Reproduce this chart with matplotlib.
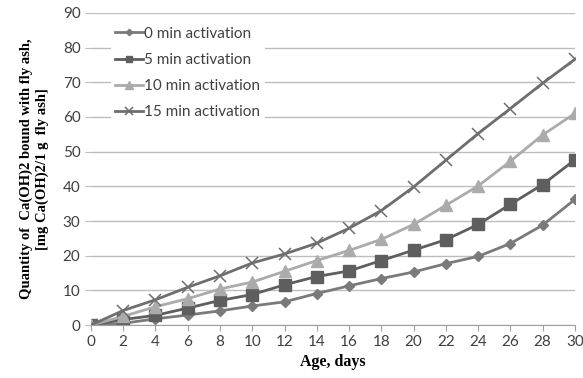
import matplotlib
matplotlib.use('Agg')
import matplotlib.pyplot as plt

# -- Data
days = [0, 2, 4, 6, 8, 10, 12, 14, 16, 18, 20, 22, 24, 26, 28, 30]
act_0 = [0, 0.5, 1.8, 2.9, 4.1, 5.5, 6.7, 9.1, 11.3, 13.4, 15.3, 17.7, 19.8, 23.5, 28.8, 36.2]
act_5 = [0, 1.6, 2.8, 4.9, 7.1, 8.8, 11.6, 14.0, 15.6, 18.6, 21.6, 24.6, 29.0, 34.8, 40.5, 47.6]
act_10 = [0, 2.5, 5.3, 7.6, 10.4, 12.4, 15.5, 18.6, 21.5, 24.7, 29.0, 34.5, 40.1, 47.2, 54.8, 61.0]
act_15 = [0, 4.2, 7.3, 10.9, 14.2, 17.9, 20.5, 23.6, 27.9, 33.0, 39.8, 47.5, 55.2, 62.4, 69.7, 76.6]
labels = ['0 min activation', '5 min activation', '10 min activation', '15 min activation']

fig = plt.figure(figsize=(5.83, 3.78), dpi=100)
ax = fig.add_axes([0.156, 0.14, 0.83, 0.826])

ax.plot(days, act_0, color='#7a7a7a', lw=2, marker='D', ms=5.5, label=labels[0])
ax.plot(days, act_5, color='#5e5e5e', lw=2, marker='s', ms=8, label=labels[1])
ax.plot(days, act_10, color='#ababab', lw=2, marker='^', ms=9, label=labels[2])
ax.plot(days, act_15, color='#6e6e6e', lw=2, marker='x', ms=9, mew=1.1, label=labels[3])

ax.set_xlim(0, 30)
ax.set_ylim(0, 90)
ax.set_xticks(range(0, 31, 2))
ax.set_yticks(range(0, 91, 10))
ax.grid(axis='y', color='#bdbdbd', lw=1)
ax.set_axisbelow(True)

for s in ['top', 'right', 'left']:
    ax.spines[s].set_visible(False)
ax.spines['bottom'].set_color('#a0a0a0')
ax.tick_params(axis='x', colors='#a0a0a0', labelcolor='#404040', length=4, labelsize=11)
ax.tick_params(axis='y', colors='#bdbdbd', labelcolor='#404040', length=4, labelsize=11)
for t in ax.get_xticklabels() + ax.get_yticklabels():
    t.set_family('Lato')

ax.set_xlabel('Age, days', family='Liberation Serif', weight='bold', fontsize=11.5, labelpad=3)
ax.set_ylabel('Quantity of  Ca(OH)2 bound with fly ash,\n[mg Ca(OH)2/1 g  fly ash]',
              family='Liberation Serif', weight='bold', fontsize=10.5, labelpad=10)

leg = ax.legend(loc='upper left', bbox_to_anchor=(0.025, 0.995), frameon=True, framealpha=1,
                edgecolor='none', prop={'family': 'Lato', 'size': 11}, handlelength=1.8,
                labelspacing=0.8, borderpad=0.3, handletextpad=0.1, markerscale=0.6)
for t in leg.get_texts():
    t.set_color('#404040')

fig.savefig('out.png', dpi=100)
